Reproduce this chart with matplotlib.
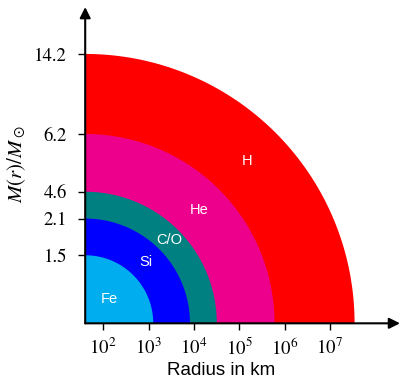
"""Onion-shell structure of a massive star before core collapse.

Each shell is a quarter circle around the origin; the x axis is the shell
radius on a log scale, the y axis carries the enclosed mass at each shell top.
"""

import matplotlib.pyplot as plt
import numpy as np
from matplotlib.ticker import NullLocator

shells = ["Fe", "Si", "C/O", "He", "H"]
outer_radius_km = [1.27e3, 8.2e3, 3.2e4, 6.0e5, 3.5e7]
enclosed_mass = ["1.5", "2.1", "4.6", "6.2", "14.2"]
shell_colors = ["#00AEEF", "#0000FF", "#008080", "#EC008C", "#FF0000"]
x_decades = [2, 3, 4, 5, 6, 7]

LOG_MIN, LOG_MAX = 1.603, 8.546
FIG_W, FIG_H = 400, 381
AX_BOX = [0.213, 0.1514, 0.787, 0.830]

plt.rcParams["mathtext.fontset"] = "stix"
plt.rcParams["font.family"] = "STIXGeneral"

fig = plt.figure(figsize=(FIG_W / 100, FIG_H / 100), dpi=100)
ax = fig.add_axes(AX_BOX)
ax.set_xscale("log")
ax.set_xlim(10 ** LOG_MIN, 10 ** LOG_MAX)

# y is measured in decades with the same pixel size as x, so shells are circles
w_px = AX_BOX[2] * FIG_W
h_px = AX_BOX[3] * FIG_H
ax.set_ylim(0, (LOG_MAX - LOG_MIN) * h_px / w_px)

radii = [np.log10(r) - LOG_MIN for r in outer_radius_km]
theta = np.linspace(0, np.pi / 2, 300)
for R, color in reversed(list(zip(radii, shell_colors))):
    xs = np.concatenate([[10 ** LOG_MIN], 10 ** (LOG_MIN + R * np.cos(theta))])
    ys = np.concatenate([[0.0], R * np.sin(theta)])
    ax.fill(xs, ys, color=color, lw=0)

inner = [0.0] + radii[:-1]
for name, r0, r1 in zip(shells, inner, radii):
    d = (r0 + r1) / 2 / np.sqrt(2)
    ax.text(10 ** (LOG_MIN + d), d, name, color="white", ha="center", va="center",
            fontsize=10.5, family="Liberation Sans")

ax.set_xticks([10.0 ** d for d in x_decades], [rf"$10^{{{d}}}$" for d in x_decades])
ax.xaxis.set_minor_locator(NullLocator())
ax.set_yticks(radii, enclosed_mass)
ax.tick_params(axis="both", direction="out", length=5, width=1, labelsize=13.5)
ax.tick_params(axis="x", pad=5)
ax.tick_params(axis="y", pad=8)

for spine in ax.spines.values():
    spine.set_visible(False)
arrow = dict(arrowstyle="-|>", color="black", lw=1.5, mutation_scale=16,
             shrinkA=0, shrinkB=0)
ax.annotate("", xy=(1, 0), xytext=(0, 0), xycoords="axes fraction", arrowprops=arrow)
ax.annotate("", xy=(0, 1), xytext=(0, 0), xycoords="axes fraction", arrowprops=arrow)

ax.set_ylabel(r"$M(r)/M_\odot$", fontsize=15)
ax.yaxis.set_label_coords(-0.182, 0.504)
ax.set_xlabel("Radius in km", fontsize=13.5, family="Liberation Sans")
ax.xaxis.set_label_coords(0.431, -0.121)

fig.savefig("out.png", dpi=100)
